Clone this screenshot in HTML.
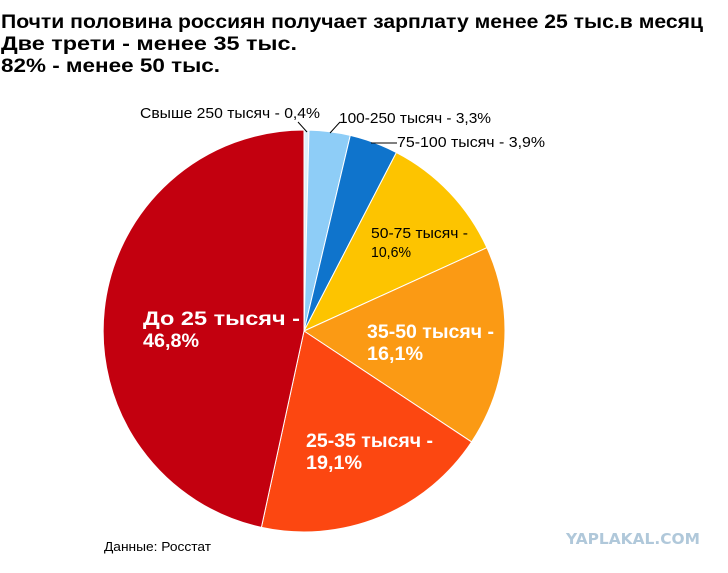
<!DOCTYPE html>
<html><head><meta charset="utf-8"><style>
body{margin:0;background:#fff;width:728px;height:568px;overflow:hidden;font-family:"Liberation Sans",Arial,sans-serif}
</style></head><body>
<svg width="728" height="568" xmlns="http://www.w3.org/2000/svg" font-family="Liberation Sans, Arial, sans-serif">
<g font-weight="bold" font-size="19" fill="#000" lengthAdjust="spacingAndGlyphs">
<text x="1" y="28" textLength="702" lengthAdjust="spacingAndGlyphs">Почти половина россиян получает зарплату менее 25 тыс.в месяц</text>
<text x="1" y="50" textLength="296" lengthAdjust="spacingAndGlyphs">Две трети - менее 35 тыс.</text>
<text x="1" y="72" textLength="219" lengthAdjust="spacingAndGlyphs">82% - менее 50 тыс.</text>
</g>
<g stroke="#fff" stroke-width="1">
<path d="M304,331 L304,130 A201,201 0 0 1 309,130.1 Z" fill="#dff0fa"/>
<path d="M304,331 L309,130.1 A201,201 0 0 1 350.3,135.4 Z" fill="#8ecdf7"/>
<path d="M304,331 L350.3,135.4 A201,201 0 0 1 396.4,152.5 Z" fill="#0f74cc"/>
<path d="M304,331 L396.4,152.5 A201,201 0 0 1 486.9,247.7 Z" fill="#fdc400"/>
<path d="M304,331 L486.9,247.7 A201,201 0 0 1 471.6,441.9 Z" fill="#fb9a14"/>
<path d="M304,331 L471.6,441.9 A201,201 0 0 1 261.4,527.4 Z" fill="#fc4711"/>
<path d="M304,331 L261.4,527.4 A201,201 0 0 1 304,130 Z" fill="#c3000f"/>
</g>
<g stroke="#000" stroke-width="1" fill="none">
<line x1="298" y1="122" x2="307" y2="132"/>
<line x1="340" y1="122" x2="330" y2="133"/>
<line x1="371" y1="143" x2="397" y2="143"/>
</g>
<g font-size="15" fill="#000">
<text x="140" y="118" textLength="180" lengthAdjust="spacingAndGlyphs">Свыше 250 тысяч - 0,4%</text>
<text x="339" y="123" textLength="152" lengthAdjust="spacingAndGlyphs">100-250 тысяч - 3,3%</text>
<text x="397" y="147" textLength="148" lengthAdjust="spacingAndGlyphs">75-100 тысяч - 3,9%</text>
<text x="371" y="238" textLength="97" lengthAdjust="spacingAndGlyphs">50-75 тысяч -</text>
<text x="371" y="257" textLength="40" lengthAdjust="spacingAndGlyphs">10,6%</text>
</g>
<g font-size="19" font-weight="bold" fill="#fff">
<text x="143" y="325" textLength="157" lengthAdjust="spacingAndGlyphs">До 25 тысяч -</text>
<text x="143" y="347" textLength="56" lengthAdjust="spacingAndGlyphs">46,8%</text>
<text x="367" y="338" textLength="127" lengthAdjust="spacingAndGlyphs">35-50 тысяч -</text>
<text x="367" y="360" textLength="56" lengthAdjust="spacingAndGlyphs">16,1%</text>
<text x="306" y="447" textLength="127" lengthAdjust="spacingAndGlyphs">25-35 тысяч -</text>
<text x="306" y="469" textLength="56" lengthAdjust="spacingAndGlyphs">19,1%</text>
</g>
<text x="104" y="551" font-size="13" fill="#000" textLength="107" lengthAdjust="spacingAndGlyphs">Данные: Росстат</text>
<text x="566" y="544" font-size="15" font-weight="bold" fill="#b0c8da" font-family="DejaVu Sans, sans-serif" textLength="134" lengthAdjust="spacingAndGlyphs">YAPLAKAL.COM</text>
</svg>
</body></html>
